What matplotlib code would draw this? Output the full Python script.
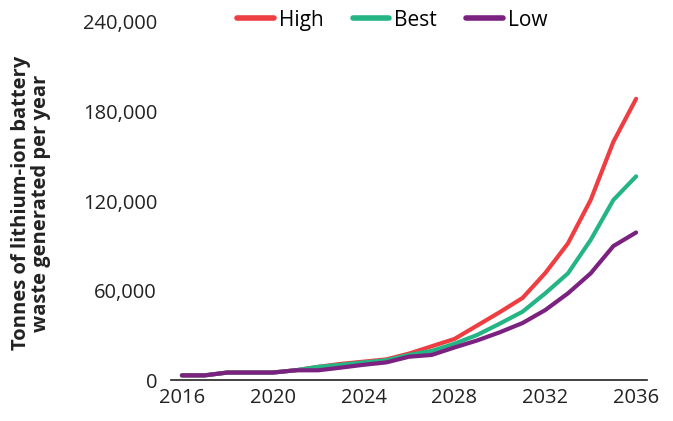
import matplotlib.pyplot as plt
from matplotlib.ticker import FuncFormatter

# ------------------------------------------------------------
# Data : lithium-ion battery waste scenarios (tonnes per year)
# ------------------------------------------------------------

years = list(range(2016, 2037))

high = [3100, 3100, 5000, 5000, 5000, 6500, 8800, 10800, 12300, 13800,
        17700, 22600, 27500, 36500, 45500, 55000, 71700, 91600, 120700,
        159700, 188500]

best = [3100, 3100, 5000, 5000, 5000, 6500, 8800, 10200, 11800, 13200,
        16800, 19500, 24300, 30200, 37800, 45800, 58100, 71500, 93900,
        120700, 136500]

low = [3100, 3100, 5000, 5000, 5000, 6500, 6500, 8300, 10200, 11800,
       15600, 16800, 21800, 26500, 32000, 38200, 46900, 58100, 71500,
       89800, 98900]

y_ticks = [0, 60000, 120000, 180000, 240000]
x_ticks = [2016, 2020, 2024, 2028, 2032, 2036]

colors = {"High": "#EE3E42", "Best": "#25B585", "Low": "#7B2180"}

plt.rcParams["font.family"] = ["Open Sans", "DejaVu Sans"]

fig = plt.figure(figsize=(6.73, 4.21), dpi=100)
ax = fig.add_axes([171 / 673, 1 - 380 / 421, 476 / 673, 358 / 421])

ax.plot(years, high, color=colors["High"], lw=3, label="High",
        solid_capstyle="round", solid_joinstyle="round")
ax.plot(years, best, color=colors["Best"], lw=3, label="Best",
        solid_capstyle="round", solid_joinstyle="round")
ax.plot(years, low, color=colors["Low"], lw=3, label="Low",
        solid_capstyle="round", solid_joinstyle="round")

ax.set_xlim(2015.52, 2036.48)
ax.set_ylim(0, 240000)
ax.set_xticks(x_ticks)
ax.set_yticks(y_ticks)
ax.yaxis.set_major_formatter(FuncFormatter(lambda v, p: f"{int(v):,}"))

for s in ["top", "right", "left"]:
    ax.spines[s].set_visible(False)
ax.spines["bottom"].set_linewidth(1.2)
ax.spines["bottom"].set_color("#222222")

ax.tick_params(axis="both", length=0, labelsize=14.5, colors="#222222")
ax.tick_params(axis="x", pad=6)
ax.tick_params(axis="y", pad=10)

fig.text(0.046, 0.518, "Tonnes of lithium-ion battery\nwaste generated per year",
         rotation=90, ha="center", va="center", fontsize=14.5,
         fontweight="bold", color="#222222", linespacing=1.0)

leg = fig.legend(loc="center", bbox_to_anchor=(0.583, 0.952), ncol=3,
                 frameon=False, fontsize=15, handlelength=1.75,
                 handletextpad=0.25, columnspacing=1.4)
for line in leg.get_lines():
    line.set_linewidth(4)
    line.set_solid_capstyle("round")

plt.savefig("out.png", dpi=100)
